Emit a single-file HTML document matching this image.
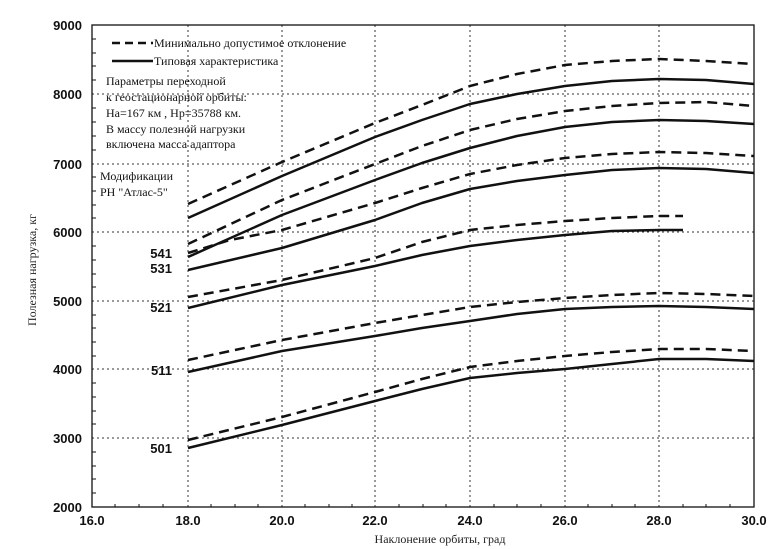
<!DOCTYPE html><html><head><meta charset="utf-8"><style>body{margin:0;background:#fff}svg{display:block}</style></head><body>
<svg width="781" height="549" viewBox="0 0 781 549" xmlns="http://www.w3.org/2000/svg" font-family="Liberation Sans, sans-serif">
<rect width="781" height="549" fill="#fff"/>
<g stroke="#333" stroke-width="1" stroke-dasharray="2,3">
<line x1="188" y1="25" x2="188" y2="507"/><line x1="282" y1="25" x2="282" y2="507"/><line x1="375" y1="25" x2="375" y2="507"/><line x1="470" y1="25" x2="470" y2="507"/><line x1="565" y1="25" x2="565" y2="507"/><line x1="659" y1="25" x2="659" y2="507"/>
<line x1="92" y1="94" x2="754" y2="94"/><line x1="92" y1="164" x2="754" y2="164"/><line x1="92" y1="232" x2="754" y2="232"/><line x1="92" y1="301" x2="754" y2="301"/><line x1="92" y1="369" x2="754" y2="369"/><line x1="92" y1="438" x2="754" y2="438"/>
</g>
<rect x="92" y="25" width="662" height="482" fill="none" stroke="#111" stroke-width="1.3"/>
<g stroke="#111" stroke-width="1">
<path d="M92 39h4M92 53h4M92 66h4M92 80h4M92 108h4M92 122h4M92 136h4M92 150h4M92 177h4M92 191h4M92 205h4M92 218h4M92 246h4M92 260h4M92 274h4M92 287h4M92 315h4M92 328h4M92 342h4M92 356h4M92 383h4M92 397h4M92 411h4M92 424h4M92 452h4M92 466h4M92 479h4M92 493h4"/>
<path d="M115 507v-3M139 507v-3M163 507v-3M211 507v-3M235 507v-3M258 507v-3M305 507v-3M329 507v-3M352 507v-3M399 507v-3M423 507v-3M446 507v-3M494 507v-3M517 507v-3M541 507v-3M588 507v-3M612 507v-3M635 507v-3M683 507v-3M706 507v-3M730 507v-3"/>
</g>
<g font-size="13" font-weight="bold" text-anchor="end" fill="#111">
<text x="82" y="30">9000</text><text x="82" y="99">8000</text><text x="82" y="169">7000</text><text x="82" y="237">6000</text><text x="82" y="306">5000</text><text x="82" y="374">4000</text><text x="82" y="443">3000</text><text x="82" y="512">2000</text>
</g>
<g font-size="13" font-weight="bold" text-anchor="middle" fill="#111">
<text x="92" y="525">16.0</text><text x="188" y="525">18.0</text><text x="282" y="525">20.0</text><text x="375" y="525">22.0</text><text x="470" y="525">24.0</text><text x="565" y="525">26.0</text><text x="659" y="525">28.0</text><text x="754" y="525">30.0</text>
</g>
<text x="440" y="543" font-family="Liberation Serif, serif" font-size="12" text-anchor="middle" fill="#222">Наклонение орбиты, град</text>
<text transform="translate(36 270) rotate(-90)" font-family="Liberation Serif, serif" font-size="12" text-anchor="middle" fill="#222">Полезная нагрузка, кг</text>
<g font-size="13" font-weight="bold" text-anchor="end" fill="#111">
<text x="172" y="258">541</text><text x="172" y="273">531</text><text x="172" y="312">521</text><text x="172" y="375">511</text><text x="172" y="453">501</text>
</g>
<g font-family="Liberation Serif, serif" font-size="12" fill="#111">
<line x1="112" y1="43" x2="153" y2="43" stroke="#111" stroke-width="2.5" stroke-dasharray="8,5"/>
<text x="154" y="47">Минимально допустимое отклонение</text>
<line x1="112" y1="61" x2="153" y2="61" stroke="#111" stroke-width="2.5"/>
<text x="154" y="65">Типовая характеристика</text>
<text x="106" y="85">Параметры переходной</text>
<text x="106" y="101">к геостационарной  орбиты:</text>
<text x="106" y="117">На=167 км , Нр=35788 км.</text>
<text x="106" y="133">В массу полезной нагрузки</text>
<text x="106" y="148">включена масса адаптора</text>
<text x="100" y="180">Модификации</text>
<text x="100" y="196">РН "Атлас-5"</text>
</g>
<g fill="none" stroke="#111" stroke-width="2.5" stroke-linejoin="round">
<g stroke-dasharray="10,6">
<path d="M188 204 L282 162 L375 123 L422 105 L470 86 L517 74 L565 65 L612 61 L659 59 L706 61 L754 64"/>
<path d="M188 244 L282 200 L375 164 L422 146 L470 130 L517 119 L565 111 L612 106 L659 103 L706 102 L754 106"/>
<path d="M188 253 L230 240 L282 230 L375 203 L422 188 L470 174 L517 165 L565 158 L612 154 L659 152 L706 153 L754 156"/>
<path d="M188 297 L282 280 L375 258 L422 242 L470 230 L517 225 L565 221 L612 218 L659 216 L683 216"/>
<path d="M188 360 L282 340 L375 323 L422 315 L470 307 L517 302 L565 298 L612 295 L659 293 L706 294 L754 296"/>
<path d="M188 440 L282 417 L375 392 L422 379 L470 367 L517 361 L565 356 L612 352 L659 349 L706 349 L754 351"/>
</g>
<path d="M188 218 L282 176 L375 137 L422 120 L470 104 L517 94 L565 86 L612 81 L659 79 L706 80 L754 84"/>
<path d="M188 257 L282 215 L375 180 L422 163 L470 148 L517 136 L565 127 L612 122 L659 120 L706 121 L754 124"/>
<path d="M188 270 L282 248 L375 220 L422 203 L470 189 L517 181 L565 175 L612 170 L659 168 L706 169 L754 173"/>
<path d="M188 308 L282 285 L375 266 L422 255 L470 246 L517 240 L565 235 L612 231 L659 230 L683 230"/>
<path d="M188 372 L282 351 L375 336 L422 328 L470 321 L517 314 L565 309 L612 307 L659 306 L706 307 L754 309"/>
<path d="M188 448 L282 425 L375 401 L422 389 L470 378 L517 373 L565 369 L612 364 L659 359 L706 359 L754 361"/>
</g>
</svg>
</body></html>
